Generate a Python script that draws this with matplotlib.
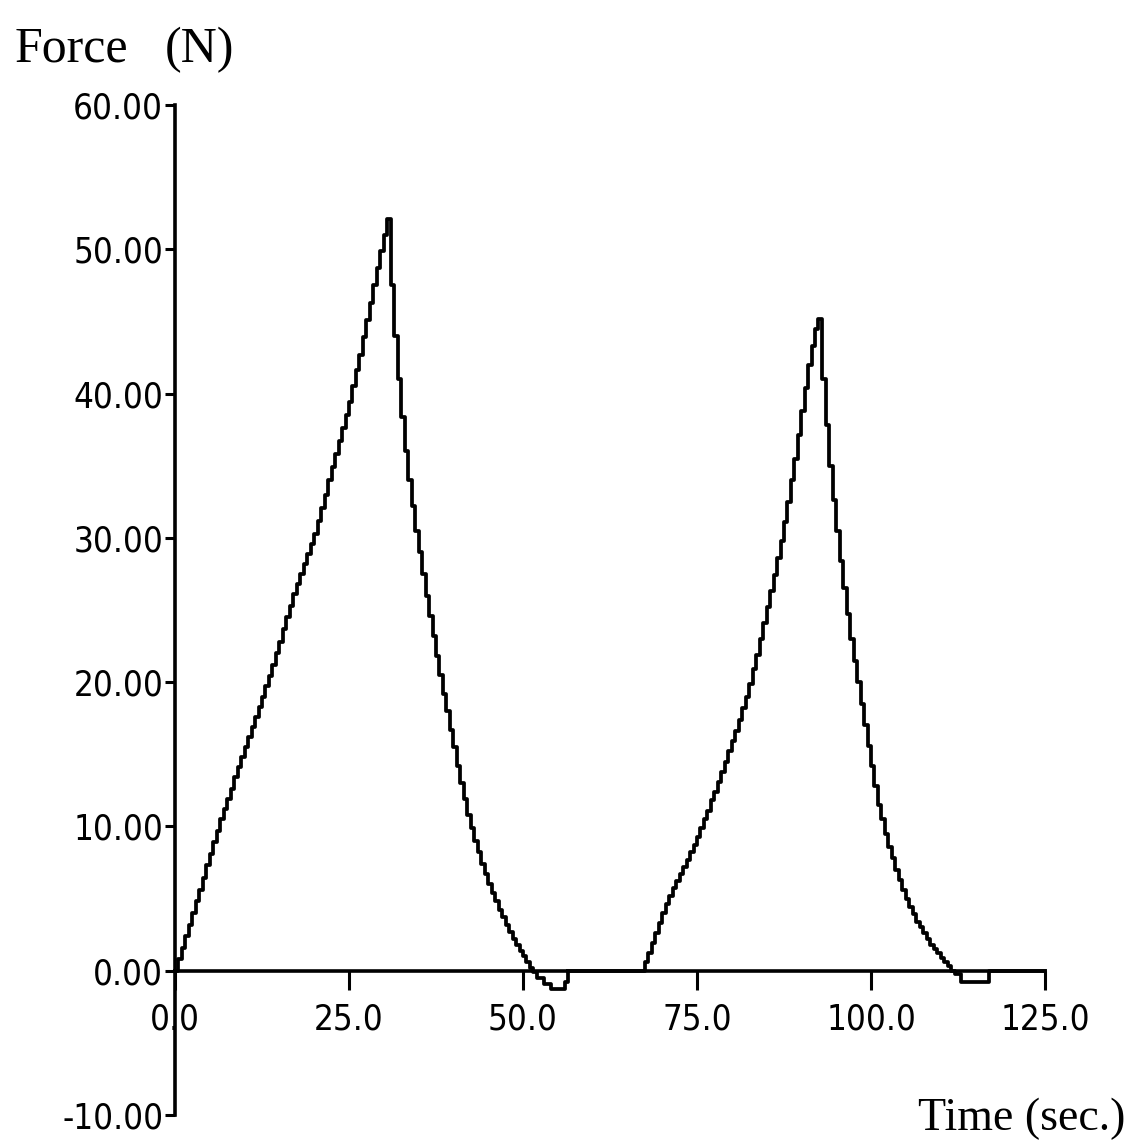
import matplotlib
matplotlib.use("Agg")
import matplotlib.pyplot as plt

# force readings (N), about every half second
t1 = [0, 0.5, 1, 1.5, 2, 2.5, 3, 3.5, 4, 4.5, 5, 5.5, 6, 6.5, 7, 7.5, 8, 8.5, 9, 9.5,
      10, 10.5, 11, 11.5, 12, 12.5, 13, 13.5, 14, 14.5, 15, 15.5, 16, 16.5, 17, 17.5,
      18, 18.5, 19, 19.5, 20, 20.5, 21, 21.5, 22, 22.5, 23, 23.5, 24, 24.5, 25, 25.5,
      26, 26.5, 27, 27.5, 28, 28.5, 29, 29.5, 30, 30.5,
      31, 31.5, 32, 32.5, 33, 33.5, 34, 34.5, 35, 35.5, 36, 36.5, 37, 37.5, 38, 38.5,
      39, 39.5, 40, 40.5, 41, 41.5, 42, 42.5, 43, 43.5, 44, 44.5, 45, 45.5, 46, 46.5,
      47, 47.5, 48, 48.5, 49, 49.5, 50, 50.5, 51, 51.5, 52, 53, 54, 55, 56, 56.5]
f1 = [0, 0.8, 1.6, 2.4, 3.2, 4.0, 4.8, 5.6, 6.4, 7.3, 8.1, 8.9, 9.7, 10.5, 11.2, 11.9,
      12.6, 13.4, 14.1, 14.8, 15.5, 16.2, 16.9, 17.6, 18.3, 19.0, 19.7, 20.4, 21.2,
      22.0, 22.8, 23.7, 24.5, 25.3, 26.1, 26.8, 27.5, 28.2, 28.9, 29.6, 30.3, 31.2,
      32.1, 33.0, 34.0, 34.9, 35.8, 36.7, 37.6, 38.5, 39.4, 40.5, 41.6, 42.7, 43.9,
      45.1, 46.3, 47.5, 48.7, 49.9, 51.0, 52.1,
      47.5, 44.0, 41.0, 38.4, 36.0, 34.0, 32.2, 30.5, 29.0, 27.5, 26.0, 24.6, 23.2,
      21.8, 20.5, 19.2, 18.0, 16.7, 15.5, 14.2, 13.0, 11.9, 10.8, 9.9, 9.0, 8.2, 7.4,
      6.7, 6.0, 5.4, 4.8, 4.2, 3.7, 3.2, 2.7, 2.2, 1.8, 1.4, 1.0, 0.6, 0.2, -0.1,
      -0.5, -0.9, -1.3, -1.3, -0.8, 0]

t2 = [56.5, 67, 67.5, 68, 68.5, 69, 69.5, 70, 70.5, 71, 71.5, 72, 72.5, 73, 73.5, 74,
      74.5, 75, 75.5, 76, 76.5, 77, 77.5, 78, 78.5, 79, 79.5, 80, 80.5, 81, 81.5, 82,
      82.5, 83, 83.5, 84, 84.5, 85, 85.5, 86, 86.5, 87, 87.5, 88, 88.5, 89, 89.5, 90,
      90.5, 91, 91.5, 92, 92.4,
      93, 93.5, 94, 94.5, 95, 95.5, 96, 96.5, 97, 97.5, 98, 98.5, 99, 99.5, 100, 100.5,
      101, 101.5, 102, 102.5, 103, 103.5, 104, 104.5, 105, 105.5, 106, 106.5, 107,
      107.5, 108, 108.5, 109, 109.5, 110, 110.5, 111, 111.5, 112, 113, 117, 125]
f2 = [0, 0, 0.6, 1.2, 1.9, 2.6, 3.3, 4.0, 4.6, 5.2, 5.7, 6.2, 6.7, 7.2, 7.7, 8.2, 8.7,
      9.3, 9.9, 10.5, 11.1, 11.8, 12.4, 13.1, 13.8, 14.5, 15.2, 15.9, 16.6, 17.4, 18.2,
      19.0, 19.9, 20.9, 21.9, 23.0, 24.1, 25.2, 26.3, 27.4, 28.6, 29.8, 31.1, 32.5,
      34.0, 35.5, 37.1, 38.8, 40.4, 42.0, 43.3, 44.5, 45.2,
      41.0, 37.8, 35.0, 32.6, 30.5, 28.4, 26.5, 24.7, 23.0, 21.5, 20.0, 18.5, 17.0,
      15.6, 14.2, 12.8, 11.5, 10.5, 9.5, 8.6, 7.8, 7.0, 6.3, 5.6, 5.0, 4.4, 3.9, 3.4,
      3.0, 2.6, 2.2, 1.8, 1.5, 1.2, 0.9, 0.6, 0.3, 0.0, -0.2, -0.8, 0, 0]

xticks = [0, 25, 50, 75, 100, 125]
xlabels = ["0.0", "25.0", "50.0", "75.0", "100.0", "125.0"]
yticks = [-10, 0, 10, 20, 30, 40, 50, 60]
ylabels = ["-10.00", "0.00", "10.00", "20.00", "30.00", "40.00", "50.00", "60.00"]

label_font = ["Liberation Serif", "DejaVu Serif"]

fig = plt.figure(figsize=(11.39, 11.41), dpi=100, facecolor="white")
ax = fig.add_axes([175/1139, 26/1141, 870/1139, 1010/1141])

ax.plot(t1, f1, color="black", lw=2.7, drawstyle="steps-post", clip_on=False)
ax.plot(t2, f2, color="black", lw=2.7, drawstyle="steps-post", clip_on=False)

ax.set_xlim(0, 125)
ax.set_ylim(-10, 60)

ax.spines["top"].set_visible(False)
ax.spines["right"].set_visible(False)
ax.spines["bottom"].set_position(("data", 0))
ax.spines["bottom"].set_linewidth(2.6)
ax.spines["left"].set_linewidth(2.6)

ax.set_xticks(xticks)
ax.set_xticklabels(xlabels, fontfamily="DejaVu Sans", fontstretch="condensed", fontsize=25)
ax.set_yticks(yticks)
ax.set_yticklabels(ylabels, fontfamily="DejaVu Sans", fontstretch="condensed", fontsize=25)
ax.tick_params(axis="x", direction="out", length=14, width=2.2, pad=9)
ax.tick_params(axis="y", direction="out", length=7, width=2.2, pad=1.5)

fig.text(15/1139, 1-62/1141, "Force", fontfamily=label_font, fontsize=36)
fig.text(165/1139, 1-62/1141, "(N)", fontfamily=label_font, fontsize=36)
fig.text(1125/1139, 1-1130/1141, "Time (sec.)", fontfamily=label_font,
         fontsize=33, ha="right")

fig.savefig("out.png", dpi=100, facecolor="white")
